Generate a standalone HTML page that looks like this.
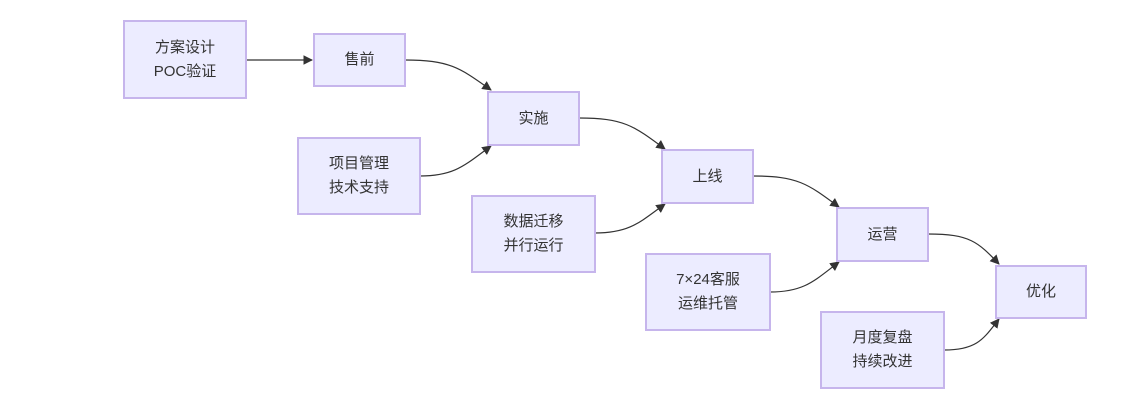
<!DOCTYPE html>
<html><head><meta charset="utf-8"><style>
body{margin:0;width:1137px;height:407px;background:#fff;overflow:hidden;position:relative;font-family:"Liberation Sans","Noto Sans CJK SC",sans-serif}
.n{position:absolute;box-sizing:border-box;background:#ECECFF;border:2px solid #C6B5EC;display:flex;align-items:center;justify-content:center;text-align:center;font-size:15px;line-height:24px;color:#333}
svg{position:absolute;left:0;top:0}
</style></head><body>
<svg width="1137" height="407">
<defs><marker id="a" viewBox="0 0 10 10" refX="9" refY="5" markerWidth="8" markerHeight="8" orient="auto"><path d="M0,0L10,5L0,10z" fill="#333"/></marker></defs>
<g fill="none" stroke="#333" stroke-width="1.2" marker-end="url(#a)">
<path d="M246,60L312,60"/>
<path d="M405,60C450,60 460,68 491,90"/>
<path d="M420,176C455,176 465,165 491,146"/>
<path d="M579,118C624,118 634,126 665,149"/>
<path d="M595,233C630,233 640,222 665,204"/>
<path d="M753,176C798,176 808,184 839,207"/>
<path d="M770,292C805,292 815,280 839,262"/>
<path d="M928,234C970,234 978,242 999,264"/>
<path d="M944,350C978,350 984,338 999,319"/>
</g></svg>
<div class="n" style="left:123px;top:20px;width:124px;height:79px">方案设计<br>POC验证</div>
<div class="n" style="left:313px;top:33px;width:93px;height:54px">售前</div>
<div class="n" style="left:487px;top:91px;width:93px;height:55px">实施</div>
<div class="n" style="left:297px;top:137px;width:124px;height:78px">项目管理<br>技术支持</div>
<div class="n" style="left:661px;top:149px;width:93px;height:55px">上线</div>
<div class="n" style="left:471px;top:195px;width:125px;height:78px">数据迁移<br>并行运行</div>
<div class="n" style="left:836px;top:207px;width:93px;height:55px">运营</div>
<div class="n" style="left:645px;top:253px;width:126px;height:78px">7×24客服<br>运维托管</div>
<div class="n" style="left:995px;top:265px;width:92px;height:54px">优化</div>
<div class="n" style="left:820px;top:311px;width:125px;height:78px">月度复盘<br>持续改进</div>
</body></html>
